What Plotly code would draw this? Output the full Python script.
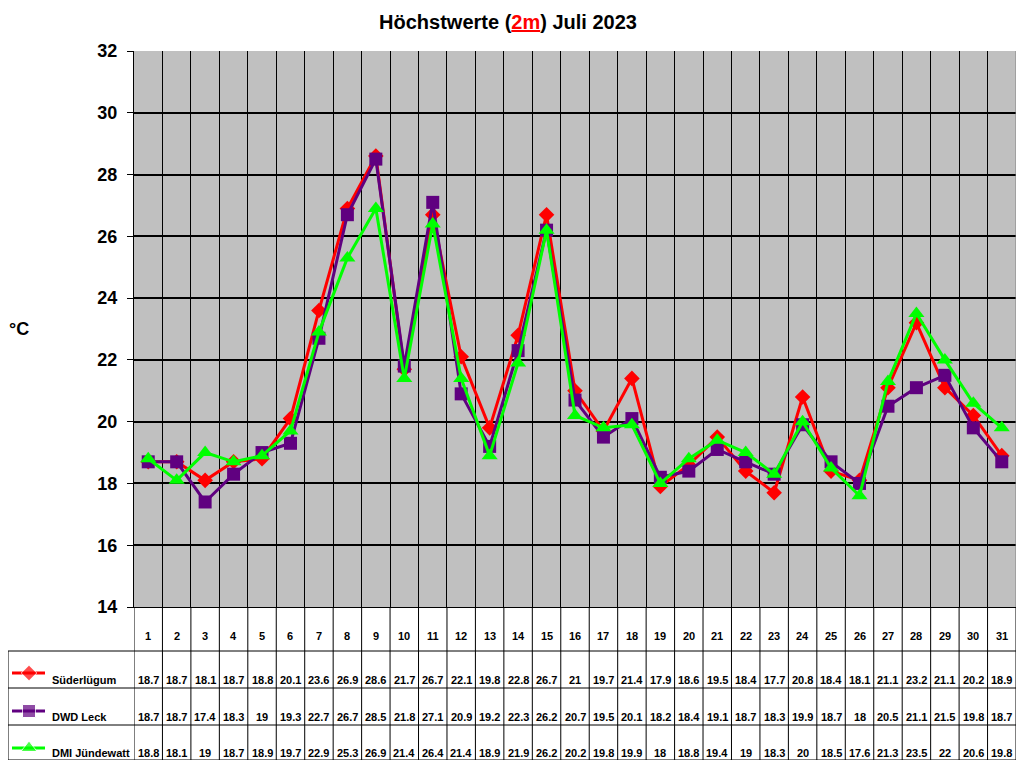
import plotly.graph_objects as go

days = list(range(1, 32))
stations = ["Süderlügum", "DWD Leck", "DMI Jündewatt"]

suederluegum = [18.7, 18.7, 18.1, 18.7, 18.8, 20.1, 23.6, 26.9, 28.6, 21.7, 26.7, 22.1, 19.8, 22.8, 26.7, 21,
                19.7, 21.4, 17.9, 18.6, 19.5, 18.4, 17.7, 20.8, 18.4, 18.1, 21.1, 23.2, 21.1, 20.2, 18.9]
dwd_leck = [18.7, 18.7, 17.4, 18.3, 19, 19.3, 22.7, 26.7, 28.5, 21.8, 27.1, 20.9, 19.2, 22.3, 26.2, 20.7,
            19.5, 20.1, 18.2, 18.4, 19.1, 18.7, 18.3, 19.9, 18.7, 18, 20.5, 21.1, 21.5, 19.8, 18.7]
dmi_juendewatt = [18.8, 18.1, 19, 18.7, 18.9, 19.7, 22.9, 25.3, 26.9, 21.4, 26.4, 21.4, 18.9, 21.9, 26.2, 20.2,
                  19.8, 19.9, 18, 18.8, 19.4, 19, 18.3, 20, 18.5, 17.6, 21.3, 23.5, 22, 20.6, 19.8]

series = [suederluegum, dwd_leck, dmi_juendewatt]
colors = ["rgb(255,0,0)", "rgb(96,0,128)", "rgb(0,255,0)"]
symbols = ["diamond", "square", "triangle-up"]
sizes = [12, 13, 14]

FONT = "Liberation Sans, Arial, sans-serif"

# the page body adds an 8px margin all round, so the figure is kept inside 1024x768
OFF = 8
W, H = 1024 - 2 * OFF, 768 - 2 * OFF
# pixel layout of the original excel chart (screen coords)
PX_L, PX_R, PX_T, PX_B = 8, 1016, 51, 760
PLOT_L, PLOT_B = 134, 607


def px(x):
    return (x - PX_L) / (PX_R - PX_L)


def py(y):
    return (PX_B - y) / (PX_B - PX_T)


fig = go.Figure()

for name, vals, c, s, sz in zip(stations, series, colors, symbols, sizes):
    fig.add_trace(go.Scatter(
        x=days, y=vals, name=name, mode="lines+markers",
        line=dict(color=c, width=3),
        marker=dict(symbol=s, size=sz, color=c),
        xaxis="x", yaxis="y", showlegend=False,
    ))

# legend keys inside the table (own little axis, pixel units)
key_rows = [673, 711, 748]
for c, s, sz, ky in zip(colors, symbols, sizes, key_rows):
    fig.add_trace(go.Scatter(
        x=[12 - PX_L, 29 - PX_L, 45 - PX_L], y=[PX_B - ky] * 3,
        mode="lines+markers", line=dict(color=c, width=3),
        marker=dict(symbol=s, size=[0, sz, 0], color=c),
        xaxis="x2", yaxis="y2", showlegend=False, hoverinfo="skip",
    ))

shapes = [dict(type="rect", xref="x domain", yref="y domain", x0=0, x1=1, y0=0, y1=1,
               fillcolor="rgb(192,192,192)", line=dict(width=0), layer="below")]
table_top = py(PLOT_B)
# vertical lines of the table
for b in [d - 0.5 for d in days] + [days[-1] + 0.5]:
    shapes.append(dict(type="line", xref="x", yref="paper", x0=b, x1=b, y0=0, y1=table_top,
                       line=dict(color="black", width=1)))
# horizontal lines of the table
for ry in [651, 688, 725, 760]:
    shapes.append(dict(type="line", xref="paper", yref="paper", x0=0, x1=1, y0=py(ry), y1=py(ry),
                       line=dict(color="black", width=1)))
shapes.append(dict(type="line", xref="paper", yref="paper", x0=0, x1=0, y0=0, y1=py(651),
                   line=dict(color="black", width=1)))
shapes.append(dict(type="line", xref="paper", yref="paper", x0=1, x1=1, y0=table_top, y1=1,
                   line=dict(color="rgb(128,128,128)", width=1)))

annotations = []
for d in days:
    annotations.append(dict(x=d, y=py(636), xref="x", yref="paper", text=f"<b>{d}</b>",
                            yanchor="middle", showarrow=False,
                            font=dict(size=11, color="black", family=FONT)))
text_rows = [680, 717, 753]
for name, vals, ty in zip(stations, series, text_rows):
    annotations.append(dict(x=px(50), y=py(ty), xref="paper", yref="paper", text=f"<b>{name}</b>",
                            xanchor="left", yanchor="middle", showarrow=False,
                            font=dict(size=11, color="black", family=FONT)))
    for d, v in zip(days, vals):
        annotations.append(dict(x=d, y=py(ty), xref="x", yref="paper", text=f"<b>{v:g}</b>",
                                yanchor="middle", showarrow=False,
                                font=dict(size=11, color="black", family=FONT)))

annotations.append(dict(x=px(19), y=py(329), xref="paper", yref="paper", text="<b>°C</b>",
                        xanchor="center", yanchor="middle", showarrow=False,
                        font=dict(size=18, color="black", family=FONT)))

fig.update_layout(
    width=W, height=H,
    margin=dict(l=PX_L - OFF, r=W + OFF - PX_R, t=PX_T - OFF, b=H + OFF - PX_B, pad=0,
                autoexpand=False),
    paper_bgcolor="white", plot_bgcolor="white",
    title=dict(text="<b>Höchstwerte (<span style='color:red'><u>2m</u></span>) Juli 2023</b>",
               x=(508 - OFF) / W, xanchor="center", y=1 - (22 - OFF) / H, yanchor="middle",
               font=dict(size=20, color="black", family=FONT)),
    xaxis=dict(domain=[px(PLOT_L), 1], range=[0.5, 31.5], tickmode="array",
               tickvals=[d - 0.5 for d in days] + [days[-1] + 0.5], showticklabels=False,
               showgrid=True, gridcolor="black", gridwidth=1, zeroline=False, automargin=False,
               showline=True, linecolor="black", linewidth=1, ticks=""),
    yaxis=dict(domain=[table_top, 1], range=[14, 32], dtick=2, tick0=14, automargin=False,
               showgrid=True, gridcolor="black", gridwidth=1.5, zeroline=False,
               showline=True, linecolor="black", linewidth=1, ticks="outside", ticklen=6,
               tickcolor="black", tickfont=dict(size=18, color="black", family=FONT),
               tickprefix="<b>", ticksuffix="</b>", ticklabelstandoff=6),
    xaxis2=dict(domain=[0, px(PLOT_L)], range=[0, PLOT_L - PX_L], visible=False, anchor="y2",
                automargin=False),
    yaxis2=dict(domain=[0, table_top], range=[0, PX_B - PLOT_B], visible=False, anchor="x2",
                automargin=False),
    shapes=shapes,
    annotations=annotations,
)

fig.write_html("out.html")
